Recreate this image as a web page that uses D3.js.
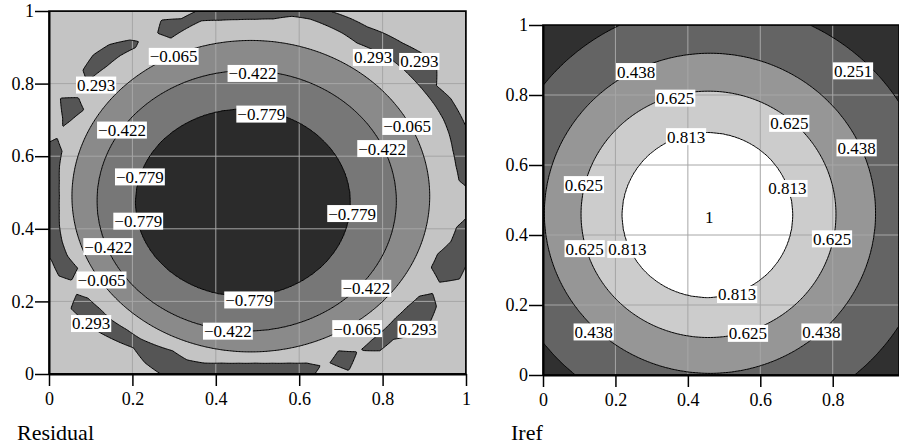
<!DOCTYPE html>
<html lang="en">
<head>
<meta charset="UTF-8">
<title>Residual / Iref contour plots</title>
<script src="https://cdn.jsdelivr.net/npm/d3@7"></script>
<style>
  body { margin: 0; background: #fff; }
  svg { display: block; }
  text { font-family: "Liberation Serif", "Times New Roman", serif; fill: #000; }
</style>
</head>
<body>
<svg id="chart" width="899" height="446"></svg>
<script>
// ---------- Residual ----------
const resLevels = [-0.779, -0.422, -0.065, 0.293];
// radial profile of the bowl (radius -> value, ring centre)
const resProfileR = [0, 0.258, 0.359, 0.429, 0.47, 0.8];
const resProfileV = [-1.15, -0.779, -0.422, -0.065, 0.15, 0.15];
const resCenterX  = [0.465, 0.465, 0.474, 0.484, 0.49, 0.49];
const resCenterY  = [0.472, 0.472, 0.477, 0.49, 0.49, 0.49];
// patches above 0.293 around the rim: inner / outer radius every 5 degrees (0..355)
const ridgeCenter = [0.495, 0.49];
const ridgeInner = [
  0.53, 0.49, 0.488, 0.49, 0.495, 0.498, 0.498, 0.497, 0.497, 0.498, 0.498, 0.492,
  0.487, 0.495, 0.50, 0.505, 0.503, 0.49, 0.487, 0.488, 0.492, 0.50, 0.49, 0.48,
  0.53, 0.50, 0.505, 0.505, 0.51, 0.53, 0.475, 0.49, 0.51, 0.48, 0.477, 0.472,
  0.47, 0.472, 0.477, 0.48, 0.48, 0.47, 0.52, 0.49, 0.485, 0.485, 0.48, 0.48,
  0.475, 0.47, 0.48, 0.476, 0.467, 0.462, 0.46, 0.462, 0.467, 0.476, 0.50, 0.47,
  0.495, 0.485, 0.48, 0.475, 0.475, 0.48, 0.52, 0.465, 0.465, 0.485, 0.49, 0.52
];
const ridgeOuter = [
  0.47, 0.56, 0.56, 0.56, 0.54, 0.54, 0.54, 0.53, 0.567, 0.56, 0.55, 0.545,
  0.538, 0.54, 0.54, 0.54, 0.54, 0.53, 0.53, 0.53, 0.53, 0.53, 0.52, 0.535,
  0.48, 0.525, 0.545, 0.55, 0.54, 0.47, 0.54, 0.51, 0.49, 0.53, 0.53, 0.53,
  0.53, 0.53, 0.53, 0.53, 0.52, 0.52, 0.48, 0.54, 0.535, 0.53, 0.52, 0.51,
  0.53, 0.54, 0.52, 0.52, 0.52, 0.52, 0.52, 0.52, 0.52, 0.52, 0.48, 0.53,
  0.49, 0.52, 0.515, 0.54, 0.545, 0.53, 0.48, 0.54, 0.54, 0.54, 0.54, 0.49
];
// contour labels: [x, y, level]
const resLabels = [
  [0.299, 0.875, -0.065], [0.777, 0.872, 0.293], [0.888, 0.861, 0.293],
  [0.488, 0.828, -0.422], [0.113, 0.796, 0.293], [0.509, 0.716, -0.779],
  [0.859, 0.682, -0.065], [0.175, 0.672, -0.422], [0.799, 0.621, -0.422],
  [0.218, 0.543, -0.779], [0.727, 0.442, -0.779], [0.214, 0.421, -0.779],
  [0.142, 0.351, -0.422], [0.126, 0.259, -0.065], [0.761, 0.236, -0.422],
  [0.480, 0.204, -0.779], [0.101, 0.139, 0.293], [0.429, 0.118, -0.422],
  [0.739, 0.125, -0.065], [0.884, 0.123, 0.293]
];

// ---------- Iref ----------
const irefLevels = [0.251, 0.438, 0.625, 0.813];
const irefProfileR = [0, 0.236, 0.352, 0.457, 0.60, 0.85];
const irefProfileV = [1, 0.813, 0.625, 0.438, 0.251, 0.0];
const irefCenterX  = [0.454, 0.454, 0.457, 0.461, 0.475, 0.475];
const irefCenterY  = [0.457, 0.457, 0.459, 0.462, 0.46, 0.46];
const irefLabels = [
  [0.257, 0.867, 0.438], [0.856, 0.869, 0.251], [0.365, 0.791, 0.625],
  [0.680, 0.719, 0.625], [0.395, 0.681, 0.813], [0.866, 0.649, 0.438],
  [0.113, 0.544, 0.625], [0.675, 0.533, 0.813], [0.459, 0.451, 1],
  [0.798, 0.389, 0.625], [0.115, 0.361, 0.625], [0.233, 0.359, 0.813],
  [0.536, 0.230, 0.813], [0.140, 0.123, 0.438], [0.566, 0.119, 0.625],
  [0.769, 0.123, 0.438]
];

const resXTicks = [0, 0.2, 0.4, 0.6, 0.8, 1];
const irefXTicks = [0, 0.2, 0.4, 0.6, 0.8];
const yTicks = [0, 0.2, 0.4, 0.6, 0.8, 1];

const svg = d3.select("#chart");
const fmtTick = d3.format("~g");
const fmtLevel = d3.format(".3~f");

// value from a radial profile whose ring centre drifts with radius
function radialField(rs, vs, cxs, cys) {
  const val = d3.scaleLinear().domain(rs).range(vs).clamp(true);
  const cx = d3.scaleLinear().domain(rs).range(cxs).clamp(true);
  const cy = d3.scaleLinear().domain(rs).range(cys).clamp(true);
  return (x, y) => {
    let lo = 0, hi = 1.5;
    for (let k = 0; k < 22; k++) {
      const s = (lo + hi) / 2;
      if (Math.hypot(x - cx(s), y - cy(s)) > s) lo = s; else hi = s;
    }
    return val((lo + hi) / 2);
  };
}

const resBase = radialField(resProfileR, resProfileV, resCenterX, resCenterY);
const resField = (x, y) => {
  const dx = x - ridgeCenter[0], dy = y - ridgeCenter[1];
  const r = Math.hypot(dx, dy);
  let a = Math.atan2(dy, dx) * 180 / Math.PI;
  if (a < 0) a += 360;
  const k = a / 5, i = Math.floor(k) % 72, t = k - Math.floor(k), j = (i + 1) % 72;
  const rin = ridgeInner[i] * (1 - t) + ridgeInner[j] * t;
  const rout = ridgeOuter[i] * (1 - t) + ridgeOuter[j] * t;
  const ridge = 0.293 + 20 * Math.min(r - rin, rout - r);
  return Math.max(resBase(x, y), ridge);
};
const irefField = radialField(irefProfileR, irefProfileV, irefCenterX, irefCenterY);

function drawPanel(cfg) {
  const x = d3.scaleLinear().domain([0, cfg.xMax]).range([cfg.left, cfg.right]);
  const y = d3.scaleLinear().domain([0, 1]).range([cfg.bottom, cfg.top]);
  const nx = Math.round((cfg.right - cfg.left) / 1.5);
  const ny = Math.round((cfg.bottom - cfg.top) / 1.5);
  const gx = d3.scaleLinear().domain([0, nx]).range([cfg.left, cfg.right]);
  const gy = d3.scaleLinear().domain([0, ny]).range([cfg.top, cfg.bottom]);

  const values = new Float64Array(nx * ny);
  for (let j = 0; j < ny; j++) {
    const yv = y.invert(gy(j + 0.5));
    for (let i = 0; i < nx; i++) {
      values[j * nx + i] = cfg.field(x.invert(gx(i + 0.5)), yv);
    }
  }
  const bands = d3.contours().size([nx, ny]).thresholds(cfg.levels)(values);
  const path = d3.geoPath(d3.geoTransform({
    point(px, py) { this.stream.point(gx(px), gy(py)); }
  }));

  const g = svg.append("g");
  g.append("clipPath").attr("id", cfg.id + "-clip")
    .append("rect")
    .attr("x", cfg.left).attr("y", cfg.top)
    .attr("width", cfg.right - cfg.left).attr("height", cfg.bottom - cfg.top);

  const plot = g.append("g").attr("clip-path", `url(#${cfg.id}-clip)`);
  plot.append("rect")
    .attr("x", cfg.left).attr("y", cfg.top)
    .attr("width", cfg.right - cfg.left).attr("height", cfg.bottom - cfg.top)
    .attr("fill", cfg.fills[0]);
  plot.selectAll("path.band").data(bands).join("path")
    .attr("class", "band")
    .attr("d", path)
    .attr("fill", (d, i) => cfg.fills[i + 1]);

  // grid
  plot.selectAll("line.vg").data(cfg.xTicks.filter(v => v > 0 && v < 1)).join("line")
    .attr("x1", d => x(d)).attr("x2", d => x(d))
    .attr("y1", cfg.top).attr("y2", cfg.bottom)
    .attr("stroke", "#a6a6a6").attr("stroke-width", 1);
  plot.selectAll("line.hg").data(yTicks.filter(v => v > 0 && v < 1)).join("line")
    .attr("y1", d => y(d)).attr("y2", d => y(d))
    .attr("x1", cfg.left).attr("x2", cfg.right)
    .attr("stroke", "#a6a6a6").attr("stroke-width", 1);

  // contour lines
  plot.selectAll("path.line").data(bands).join("path")
    .attr("class", "line")
    .attr("d", path)
    .attr("fill", "none")
    .attr("stroke", "#000")
    .attr("stroke-width", 1);

  // frame
  g.append("rect")
    .attr("x", cfg.left).attr("y", cfg.top)
    .attr("width", cfg.right - cfg.left).attr("height", cfg.bottom - cfg.top)
    .attr("fill", "none").attr("stroke", "#000").attr("stroke-width", 1.5);

  // axes
  const xAxis = g.append("g")
    .attr("transform", `translate(0,${cfg.bottom})`)
    .call(d3.axisBottom(x).tickValues(cfg.xTicks).tickFormat(fmtTick)
      .tickSize(12).tickSizeOuter(0).tickPadding(6));
  const yAxis = g.append("g")
    .attr("transform", `translate(${cfg.left},0)`)
    .call(d3.axisLeft(y).tickValues(yTicks).tickFormat(fmtTick)
      .tickSize(14).tickSizeOuter(0).tickPadding(1));
  [xAxis, yAxis].forEach(ax => {
    ax.select(".domain").attr("stroke", "#000").attr("stroke-width", 2);
    ax.selectAll(".tick line").attr("stroke", "#000").attr("stroke-width", 1.5);
    ax.selectAll(".tick text")
      .attr("font-family", '"Liberation Serif", serif')
      .attr("font-size", 18).attr("fill", "#000");
  });

  // contour labels
  const lab = g.selectAll("g.lab").data(cfg.labels).join("g")
    .attr("class", "lab")
    .attr("transform", d => `translate(${x(d[0])},${y(d[1])})`);
  lab.append("text")
    .attr("text-anchor", "middle")
    .attr("dy", "0.35em")
    .attr("font-size", 17)
    .text(d => fmtLevel(d[2]));
  lab.each(function () {
    const grp = d3.select(this);
    const bb = grp.select("text").node().getBBox();
    grp.insert("rect", "text")
      .attr("x", bb.x - 1).attr("y", -8.5)
      .attr("width", bb.width + 2).attr("height", 17)
      .attr("fill", "#fff");
  });

  svg.append("text")
    .attr("x", cfg.titleX).attr("y", cfg.titleY)
    .attr("font-size", 22)
    .text(cfg.title);
}

drawPanel({
  id: "res", field: resField, levels: resLevels,
  fills: ["#2b2b2b", "#777777", "#8a8a8a", "#c4c4c4", "#555555"],
  xMax: 1, left: 49, right: 466, top: 11, bottom: 374,
  xTicks: resXTicks, labels: resLabels,
  title: "Residual", titleX: 17, titleY: 440
});

drawPanel({
  id: "iref", field: irefField, levels: irefLevels,
  fills: ["#303030", "#646464", "#969696", "#cccccc", "#ffffff"],
  xMax: 0.983, left: 543, right: 899, top: 25, bottom: 375,
  xTicks: irefXTicks, labels: irefLabels,
  title: "Iref", titleX: 511, titleY: 440
});
</script>
</body>
</html>
